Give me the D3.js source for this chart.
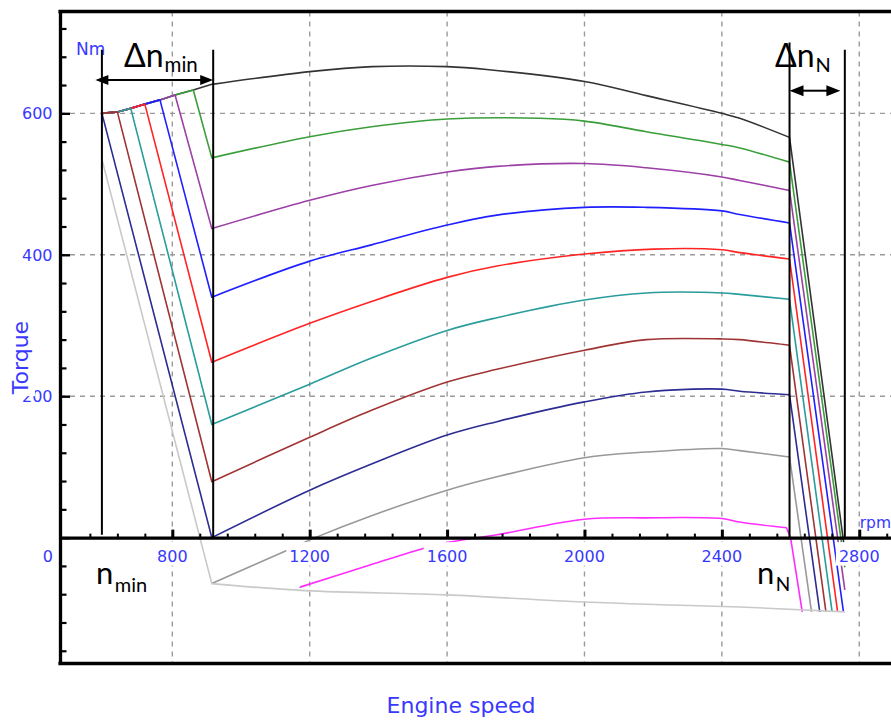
<!DOCTYPE html>
<html>
<head>
<meta charset="utf-8">
<script src="https://cdn.jsdelivr.net/npm/d3@7"></script>
<style>
  body { margin: 0; background: #fff; }
  svg { display: block; }
</style>
</head>
<body>
<script>
// Engine torque map: full-load curve, part-load governor curves and drag curve.

// ---- axis values -------------------------------------------------------
const rpmMajorTicks = [800, 1200, 1600, 2000, 2400, 2800];
const rpmTickLabels = ["800", "1200", "1600", "2000", "2400", "2800"];
const rpmMinorTicks = d3.range(560, 2900, 80).filter(v => v % 400 !== 0);
const torqueMajorTicks = [0, 200, 400, 600];
const torqueTickLabels = ["600", "400", "200"];
const torqueLabelValues = [600, 400, 200];
const torqueGridValues = [200, 400, 600];
const torqueMinorTicks = d3.range(-160, 744, 40).filter(v => v % 200 !== 0);

// ---- series: [engine speed rpm, torque Nm] ------------------------------
const fullLoad = [[595,600],[640,602],[679,607],[720,613],[764,619],[808,626],[861,633],[915,641],
  [1200,659],[1382,666],[1600,666],[1715,662],[2000,645],[2180,625],[2400,600],[2452,593],[2597,566],[2756,-12]];
const load90 = [[595,600],[640,602],[679,607],[720,613],[764,619],[808,626],[861,633],[915,537],
  [1200,567],[1380,581],[1600,592],[1870,593],[2000,589],[2180,574],[2400,556],[2452,551],[2597,531],[2758,-42]];
const load80 = [[595,600],[640,602],[679,607],[720,613],[764,619],[808,626],[915,437],
  [1200,477],[1380,498],[1600,517],[1745,525],[2000,529],[2180,523],[2400,510],[2452,505],[2597,491],[2758,-74]];
const load70 = [[595,600],[640,602],[679,607],[720,613],[764,619],[915,340],
  [1200,391],[1380,414],[1600,442],[1745,456],[2000,467],[2180,467],[2400,462],[2452,457],[2597,445],[2754,-105]];
const load60 = [[595,600],[640,602],[679,607],[720,613],[915,248],
  [1200,303],[1380,334],[1600,368],[1745,384],[2000,401],[2200,408],[2400,407],[2452,403],[2597,394],[2737,-105]];
const load50 = [[595,600],[640,602],[679,607],[915,160],
  [1200,217],[1380,254],[1600,293],[1745,311],[2000,336],[2180,346],[2400,346],[2452,344],[2597,337],[2721,-105]];
const load40 = [[595,600],[640,602],[915,79],
  [1200,142],[1380,180],[1600,220],[1745,238],[2000,265],[2180,280],[2400,281],[2452,280],[2597,272],[2703,-105]];
const load30 = [[595,600],[915,0],
  [1200,67],[1380,104],[1600,145],[1745,164],[2000,192],[2180,206],[2400,210],[2452,207],[2597,202],[2685,-105]];
const load20 = [[915,-65],[1138,-17],[1216,0],[1380,31],[1600,67],[1745,86],[2000,113],[2180,121],
  [2400,126],[2452,123],[2597,114],[2661,-105]];
const load10 = [[1172,-70],[1380,-38],[1526,-16],[1600,-7],[1745,4],[2000,26],[2180,28],[2400,27],
  [2452,22],[2588,14],[2600,0],[2634,-105]];
const dragCurve = [[595,535],[915,-65],[1186,-75],[1600,-81],[2000,-91],[2452,-98],[2758,-105]];

const seriesData = [fullLoad, load90, load80, load70, load60, load50, load40, load30, load20, load10, dragCurve];
const seriesColors = ["#333333", "#3a9e3a", "#9c3fa6", "#1f1fff", "#ff2424", "#2a9c9c",
                      "#a03434", "#2c2c92", "#999999", "#ff2cff", "#c9c9c9"];

// speed markers for the idle and rated-speed annotations (rpm)
const nMin = 595, nMinEnd = 919, nRated = 2597, nRatedEnd = 2758;

// ---- drawing -----------------------------------------------------------
const W = 891, H = 720;
const svg = d3.select("body").append("svg").attr("width", W).attr("height", H);

const x = d3.scaleLinear().domain([473, 2900]).range([60, 893.6]);
const y = d3.scaleLinear().domain([-178, 744]).range([663.5, 11.5]);

const blue = "#3838ff";
const tickFont = "'DejaVu Sans', Verdana, sans-serif";

svg.append("defs").append("clipPath").attr("id", "plot")
  .append("rect").attr("x", x(473)).attr("y", y(744)).attr("width", W - x(473)).attr("height", y(-178) - y(744));

// grid
const grid = svg.append("g").attr("stroke", "#9a9a9a").attr("stroke-width", 1.4).attr("stroke-dasharray", "5,5");
grid.selectAll(".gx").data(rpmMajorTicks).join("line")
  .attr("x1", d => x(d)).attr("x2", d => x(d)).attr("y1", y(744)).attr("y2", y(-178));
grid.selectAll(".gy").data(torqueGridValues).join("line")
  .attr("x1", x(473)).attr("x2", W).attr("y1", d => y(d)).attr("y2", d => y(d));

// curves: straight idle-governor and rated-governor legs, smooth part-load section between them
const straight = d3.line().x(d => x(d[0])).y(d => y(d[1]));
const smooth = d3.line().x(d => x(d[0])).y(d => y(d[1])).curve(d3.curveCatmullRom.alpha(0.5));
function curvePath(pts) {
  const i0 = pts.findIndex(p => p[0] >= nMinEnd - 4);
  let i1 = -1;
  pts.forEach((p, i) => { if (p[0] <= nRated) i1 = i; });
  const head = pts.slice(0, i0 + 1);
  const mid = pts.slice(i0, i1 + 1);
  const tail = pts.slice(i1);
  let d = head.length > 1 ? straight(head) : `M${x(mid[0][0])},${y(mid[0][1])}`;
  if (mid.length > 1) d += smooth(mid).replace(/^M/, "L");
  if (tail.length > 1) d += straight(tail).replace(/^M/, "L");
  return d;
}
svg.append("g").attr("clip-path", "url(#plot)")
  .selectAll("path").data(seriesData).join("path")
  .attr("d", curvePath).attr("fill", "none")
  .attr("stroke", (d, i) => seriesColors[i]).attr("stroke-width", 1.6)
  .attr("stroke-linejoin", "round");

// x axis on the zero-torque line, ticks pointing up
const gxMinor = svg.append("g").attr("transform", `translate(0,${y(0)})`)
  .call(d3.axisBottom(x).tickValues(rpmMinorTicks).tickSize(-4).tickSizeOuter(0).tickFormat(""));
gxMinor.select(".domain").attr("stroke", "#000").attr("stroke-width", 3.3);
gxMinor.selectAll(".tick line").attr("stroke", "#000").attr("stroke-width", 2);
const gxMajor = svg.append("g").attr("transform", `translate(0,${y(0)})`)
  .call(d3.axisBottom(x).tickValues(rpmMajorTicks).tickSize(-8).tickSizeOuter(0).tickFormat(""));
gxMajor.select(".domain").remove();
gxMajor.selectAll(".tick line").attr("stroke", "#000").attr("stroke-width", 3);

// y axis along the left frame, ticks pointing right
const gyMinor = svg.append("g").attr("transform", `translate(${x(473)},0)`)
  .call(d3.axisLeft(y).tickValues(torqueMinorTicks).tickSize(-6.5).tickSizeOuter(0).tickFormat(""));
gyMinor.select(".domain").attr("stroke", "#000").attr("stroke-width", 3.3);
gyMinor.selectAll(".tick line").attr("stroke", "#000").attr("stroke-width", 2.2);
const gyMajor = svg.append("g").attr("transform", `translate(${x(473)},0)`)
  .call(d3.axisLeft(y).tickValues(torqueMajorTicks).tickSize(-10).tickSizeOuter(0).tickFormat(""));
gyMajor.select(".domain").remove();
gyMajor.selectAll(".tick line").attr("stroke", "#000").attr("stroke-width", 2.4);

// top and bottom frame
const frame = svg.append("g").attr("stroke", "#000").attr("stroke-width", 3.3);
frame.append("line").attr("x1", x(473) - 1.6).attr("x2", W).attr("y1", y(744)).attr("y2", y(744));
frame.append("line").attr("x1", x(473) - 1.6).attr("x2", W).attr("y1", y(-178)).attr("y2", y(-178));

// text with an opaque white box behind it
function boxedText(parent, str, px, py, attrs, pad) {
  const g = parent.append("g");
  const t = g.append("text").text(str).attr("x", px).attr("y", py);
  Object.entries(attrs).forEach(([k, v]) => t.attr(k, v));
  const b = t.node().getBBox();
  const p = Object.assign({ l: 0, r: 0, t: 0, b: 0 }, pad || {});
  g.insert("rect", () => t.node())
    .attr("x", b.x - p.l).attr("y", b.y - p.t)
    .attr("width", b.width + p.l + p.r).attr("height", b.height + p.t + p.b)
    .attr("fill", "#fff");
  return g;
}

const labels = svg.append("g");
rpmMajorTicks.forEach((v, i) => {
  const g = boxedText(labels, rpmTickLabels[i], x(v), y(0) + 24,
    { "text-anchor": "middle", "font-family": tickFont, "font-size": 16, fill: blue }, { l: 3, r: 1 });
  // box reaches up close to the axis line
  const r = g.select("rect");
  const bottom = +r.attr("y") + +r.attr("height");
  r.attr("y", y(0) + 4.5).attr("height", bottom - y(0) - 4.5);
});
torqueLabelValues.forEach((v, i) => {
  boxedText(labels, torqueTickLabels[i], x(473) - 7.5, y(v) + 5.8,
    { "text-anchor": "end", "font-family": tickFont, "font-size": 16, fill: blue });
});
labels.append("text").text("0").attr("x", x(473) - 7).attr("y", y(0) + 24)
  .attr("text-anchor", "end").attr("font-family", tickFont).attr("font-size", 16).attr("fill", blue);

// units
labels.append("text").text("Nm").attr("x", x(473) + 16).attr("y", y(683))
  .attr("font-family", tickFont).attr("font-size", 17).attr("fill", blue);
labels.append("text").text("rpm").attr("x", x(2800) + 0.5).attr("y", y(14))
  .attr("font-family", tickFont).attr("font-size", 15.5).attr("fill", blue);

// axis titles
svg.append("text").text("Engine speed").attr("x", 461).attr("y", 713)
  .attr("text-anchor", "middle").attr("font-family", tickFont).attr("font-size", 22).attr("fill", blue);
const torqueTitle = svg.append("g").attr("transform", "translate(28,357.5) rotate(-90)");
boxedText(torqueTitle, "Torque", 0, 0,
  { "text-anchor": "middle", "font-family": tickFont, "font-size": 22, fill: blue }, { l: 1, r: 1, t: 0, b: 2 });

// ---- annotations -------------------------------------------------------
const anno = svg.append("g").attr("stroke", "#000").attr("stroke-width", 2);
anno.append("line").attr("x1", x(nMin)).attr("x2", x(nMin)).attr("y1", y(690)).attr("y2", y(4));
anno.append("line").attr("x1", x(nMinEnd)).attr("x2", x(nMinEnd)).attr("y1", y(690)).attr("y2", y(0));
anno.append("line").attr("x1", x(nRated)).attr("x2", x(nRated)).attr("y1", y(700)).attr("y2", y(0));
anno.append("line").attr("x1", x(nRatedEnd)).attr("x2", x(nRatedEnd)).attr("y1", y(690)).attr("y2", y(0));

function doubleArrow(x1, x2, yy, len, half) {
  const g = svg.append("g");
  g.append("line").attr("x1", x1 + len - 2).attr("x2", x2 - len + 2).attr("y1", yy).attr("y2", yy)
    .attr("stroke", "#000").attr("stroke-width", 2);
  g.append("path").attr("d", `M${x1},${yy}L${x1 + len},${yy - half}L${x1 + len},${yy + half}Z`).attr("fill", "#000");
  g.append("path").attr("d", `M${x2},${yy}L${x2 - len},${yy - half}L${x2 - len},${yy + half}Z`).attr("fill", "#000");
}
doubleArrow(x(576), x(nMinEnd), y(647), 13, 5);
doubleArrow(x(nRated), x(2745), y(632), 14, 5.5);

const annoFont = "Lato, 'Open Sans', sans-serif";
function symbol(str, sub, px, py, size, subSize, subDx, subDy) {
  const t = svg.append("text").attr("x", px).attr("y", py)
    .attr("font-family", annoFont).attr("font-size", size).attr("fill", "#000");
  t.append("tspan").text(str);
  t.append("tspan").text(sub).attr("font-size", subSize).attr("dx", subDx).attr("dy", subDy);
}
symbol("Δn", "min", 124, 67, 32, 20.5, 1, 5);
symbol("Δn", "N", 775, 67, 32, 20, 1, 5);
symbol("n", "min", 96, 583.5, 31, 20, 1.5, 8);
symbol("n", "N", 757, 583.5, 31, 19, 1.5, 7.5);
</script>
</body>
</html>
